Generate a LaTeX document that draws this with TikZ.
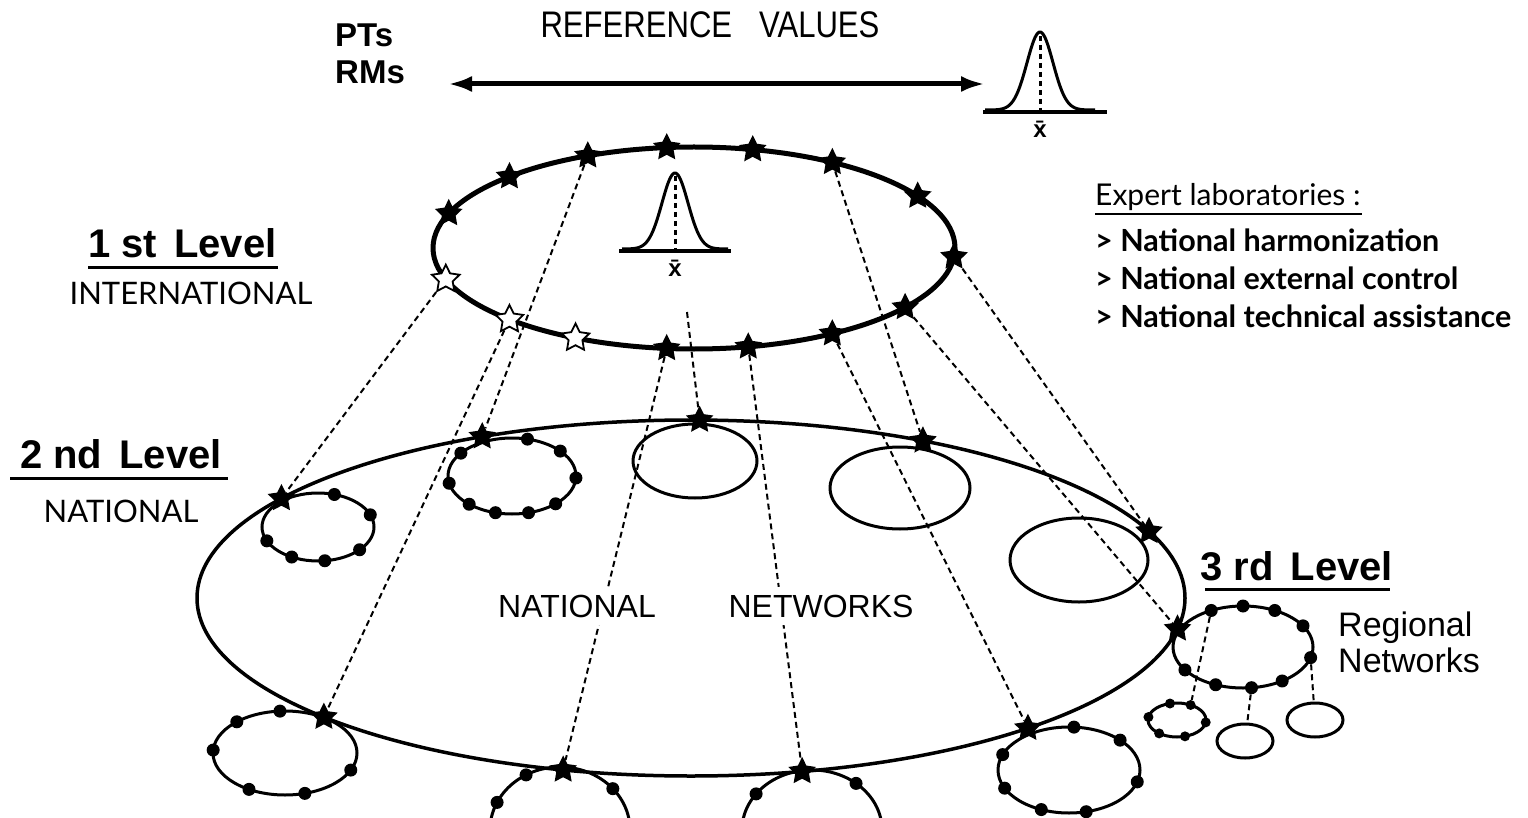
\documentclass[tikz,border=0pt]{standalone}
\usepackage{fontspec}
\usepackage{graphicx}
\setmainfont{Liberation Sans}
\newfontfamily\labfont{Lato}
\usetikzlibrary{shapes.geometric,arrows.meta,backgrounds}
\tikzset{>={Latex[length=24pt,width=16pt]}}
\tikzset{
  bigstar/.style = {star, star points=5, star point ratio=2.0,
    minimum size=29pt, inner sep=0pt, fill=black},
  openstar/.style = {bigstar, fill=white, draw=black, line width=1.8pt},
  bead/.style = {circle, fill=black, minimum size=13pt, inner sep=0pt},
  ring/.style = {ellipse, draw, line width=3pt, inner sep=0pt},
  link/.style = {line width=2pt, dash pattern=on 6pt off 4pt},
  level/.style = {font=\fontsize{40}{44}\selectfont\bfseries,
    anchor=base west, inner sep=0pt},
  tag/.style = {font=\labfont\fontsize{31}{34}\selectfont,
    anchor=base, inner sep=0pt},
  bell/.style = {line width=3pt},
  mean/.style = {inner sep=0pt, font=\fontsize{24}{26}\selectfont\bfseries}
}

\begin{document}
\begin{tikzpicture}[x=1pt,y=-1pt]
  \useasboundingbox (0,0) rectangle (1528,818);
  \clip (0,0) rectangle (1528,818);

  % the two big levels
  \node[ellipse, draw, line width=5pt, minimum width=522pt,
    minimum height=202pt] (intl) at (694,248) {};
  \node[ellipse, draw, line width=3.5pt, minimum width=988pt,
    minimum height=356pt] (natl) at (691,598) {};

  % national and regional rings
  \foreach \n/\p/\w/\h in {ra/{318,527}/112/68, rb/{512,476}/128/76,
      rc/{695,461}/124/74, rd/{900,488}/140/82, re/{1079,560}/138/84,
      rf/{285,753}/144/84, rg/{560,830}/140/126, rh/{812,830}/140/120,
      ri/{1069,770}/142/86, rj/{1243,647}/140/82,
      k1/{1177,720}/58/34, k2/{1245,741}/56/34, k3/{1315,720}/56/34}
    \node[ring, minimum width=\w pt, minimum height=\h pt] (\n) at (\p) {};

  \foreach \a [count=\i] in {287,339,42,83,118,156}
    \node[bead] (ra\i) at ([shift={(\a:56 and 34)}] ra.center) {};
  \foreach \a [count=\i] in {284,319,3,47,75,105,132,169,217}
    \node[bead] (rb\i) at ([shift={(\a:64 and 38)}] rb.center) {};
  \foreach \a [count=\i] in {266,228,184,120,74,24}
    \node[bead] (rf\i) at ([shift={(\a:72 and 42)}] rf.center) {};
  \foreach \a [count=\i] in {206,241,319}
    \node[bead] (rg\i) at ([shift={(\a:70 and 63)}] rg.center) {};
  \foreach \a [count=\i] in {217,309}
    \node[bead] (rh\i) at ([shift={(\a:70 and 60)}] rh.center) {};
  \foreach \a [count=\i] in {274,316,16,76,113,155,201}
    \node[bead] (ri\i) at ([shift={(\a:71 and 43)}] ri.center) {};
  \foreach \a [count=\i] in {243,270,297,329,15,56,83,113,146}
    \node[bead] (rj\i) at ([shift={(\a:70 and 41)}] rj.center) {};
  \foreach \a [count=\i] in {190,256,298,8,74,128}
    \node[bead, minimum size=10pt] (k1d\i) at ([shift={(\a:29 and 17)}] k1.center) {};

  % stars
  \foreach \a/\n in {200/t1,225/t2,246/t3,264/t4,283/t5,302/t6,329/t7,
      5/t8,36/t9,58/t10,78/t11,96/t12}
    \node[bigstar] (\n) at ([shift={(\a:261 and 101)}] intl.center) {};
  \foreach \a/\n in {117/h1,135/h2,162/h3}
    \node[openstar] (\n) at ([shift={(\a:261 and 101)}] intl.center) {};
  \foreach \a/\n in {214/sa,245/sb,271/sc,298/sd,338/se,
      10/sj,47/si,77/sh,105/sg,138/sf}
    \node[bigstar] (\n) at ([shift={(\a:494 and 178)}] natl.center) {};
  \coordinate (cfoot) at (687,312);

  % links between levels
  \begin{scope}[on background layer]
    \draw[link] (h3) -- (sa);
    \draw[link] (h2) -- (sf);
    \draw[link] (t3) -- (sb);
    \draw[link] (t12) -- (sg);
    \draw[link] (cfoot) -- (sc);
    \draw[link] (t11) -- (sh);
    \draw[link] (t6) -- (sd);
    \draw[link] (t10) -- (si);
    \draw[link] (t8) -- (se);
    \draw[link] (t9) -- (sj);
    \draw[link] (rj1) -- (k1d3);
    \draw[link] (rj7) -- (k2);
    \draw[link] (rj5) -- (k3);
  \end{scope}

  % reference values
  \coordinate (refl) at (448,84);
  \coordinate (refr) at (985,84);
  \draw[<->, line width=5pt] (refl) -- (refr);
  \node[inner sep=0pt, anchor=base] (refval) at (710,38)
    {\fontsize{37}{40}\selectfont\scalebox{0.84}[1]{REFERENCE\hspace{32pt}VALUES}};
  \node[font=\fontsize{33}{36}\selectfont\bfseries, anchor=base west,
    inner sep=0pt] (pts) at (335,47) {PTs};
  \node[font=\fontsize{33}{36}\selectfont\bfseries, anchor=base west,
    inner sep=0pt] (rms) at (335,84) {RMs};

  % bells
  \draw[line width=3.5pt] (983,112) -- (1107,112);
  \draw[bell] plot[domain=-55:55, samples=80]
    ({1040+\x},{110-78*exp(-(\x*\x)/338)});
  \draw[line width=3pt, dash pattern=on 5pt off 4pt] (1040,36) -- (1040,110);
  \node[mean] (xbar1) at (1040,129) {\={x}};
  \draw[line width=3.5pt] (619,251) -- (731,251);
  \draw[bell] plot[domain=-53:53, samples=80]
    ({675+\x},{249-76*exp(-(\x*\x)/338)});
  \draw[line width=3pt, dash pattern=on 5pt off 4pt] (675,176) -- (675,249);
  \node[mean] (xbar2) at (675,268) {\={x}};

  % level labels
  \node[level] (lev1) at (88,258) {1 st\hspace{6pt} Level};
  \draw[line width=3pt] (88,268) -- (278,268);
  \node[tag] (intlab) at (191,305) {INTERNATIONAL};
  \node[level] (lev2) at (20,468) {2 nd\hspace{6pt} Level};
  \draw[line width=3pt] (10,478) -- (228,478);
  \node[tag] (natlab) at (121,522) {NATIONAL};
  \node[level] (lev3) at (1200,580) {3 rd\hspace{6pt} Level};
  \draw[line width=3pt] (1205,589) -- (1390,589);
  \node[font=\fontsize{34}{37}\selectfont, anchor=base west,
    inner sep=0pt] (regl) at (1338,636) {Regional};
  \node[font=\fontsize{34}{37}\selectfont, anchor=base west,
    inner sep=0pt] (regn) at (1338,672) {Networks};
  \node[font=\fontsize{32}{35}\selectfont, fill=white, inner sep=8pt,
    anchor=base] (netl) at (577,617) {NATIONAL};
  \node[font=\fontsize{32}{35}\selectfont, fill=white, inner sep=8pt,
    anchor=base] (netn) at (821,617) {NETWORKS};

  % expert laboratories
  \node[font=\labfont\fontsize{30}{33}\selectfont, anchor=base west,
    inner sep=0pt] (expert) at (1095,206) {Expert laboratories :};
  \draw[line width=2pt] (1095,214) -- (1362,214);
  \foreach \t/\y [count=\i] in {National harmonization/252,
      National external control/290, National technical assistance/327}
    \node[font=\labfont\fontsize{30.5}{33}\selectfont\bfseries,
      anchor=base west, inner sep=0pt] (task\i) at (1095,\y)
      {\textgreater{} \t};
\end{tikzpicture}
\end{document}
